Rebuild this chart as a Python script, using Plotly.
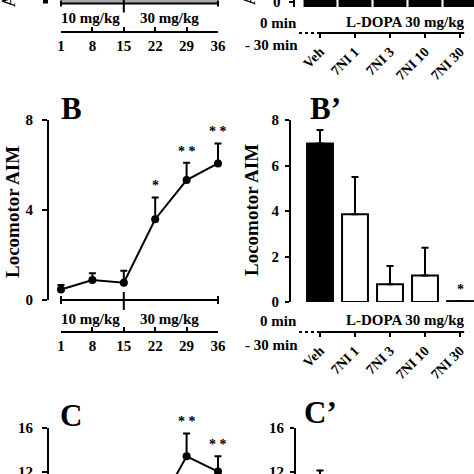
import plotly.graph_objects as go

W = H = 474
def fx(p): return p / W
def fy(p): return 1 - p / H

# ---------------- data ----------------
days = [1, 8, 15, 22, 29, 36]
dose_bounds = [1, 15, 36]
dose_labels = ["10 mg/kg", "30 mg/kg"]

b_mean = [0.47, 0.89, 0.77, 3.59, 5.33, 6.07]
b_err = [0.20, 0.30, 0.53, 0.97, 0.77, 0.89]
b_sig = ["", "", "", "*", "* *", "* *"]

groups = ["Veh", "7NI 1", "7NI 3", "7NI 10", "7NI 30"]
bp_mean = [6.97, 3.86, 0.78, 1.17, 0.04]
bp_err = [0.59, 1.64, 0.80, 1.21, 0.0]
bp_sig = ["", "", "", "", "*"]

c_days = [22, 29, 36]
c_mean = [8.2, 13.4, 12.0]
c_err = [1.0, 2.1, 1.4]
c_sig = ["", "* *", "* *"]

cp_groups = ["Veh"]
cp_mean = [10.6]
cp_err = [1.5]

y_ticks_b = [0, 4, 8]
y_ticks_bp = [0, 2, 4, 6, 8]
y_ticks_c = [12, 16]

FONT = "Liberation Serif"
def f(size):
    return dict(family=FONT, size=size, color="black", weight="bold")

gx = list(range(len(groups)))
bar_colors = ["black" if g == "Veh" else "white" for g in groups]

fig = go.Figure()

def err(arr):
    return dict(type="data", array=arr, arrayminus=[0] * len(arr), symmetric=False,
                color="black", thickness=2, width=3.5)

# B line
fig.add_trace(go.Scatter(x=days, y=b_mean, xaxis="x7", yaxis="y", mode="lines+markers",
                         line=dict(color="black", width=2), marker=dict(color="black", size=8),
                         error_y=err(b_err), cliponaxis=False, showlegend=False, hoverinfo="skip"))
# B' bars
fig.add_trace(go.Bar(x=gx, y=bp_mean, xaxis="x2", yaxis="y2", width=0.74,
                     marker=dict(color=bar_colors, line=dict(color="black", width=2)),
                     error_y=err(bp_err), showlegend=False, hoverinfo="skip"))
# C line
fig.add_trace(go.Scatter(x=c_days, y=c_mean, xaxis="x7", yaxis="y3", mode="lines+markers",
                         line=dict(color="black", width=2), marker=dict(color="black", size=8),
                         error_y=err(c_err), cliponaxis=False, showlegend=False, hoverinfo="skip"))
# C' bar
fig.add_trace(go.Bar(x=[groups.index(g) for g in cp_groups], y=cp_mean, xaxis="x2", yaxis="y4", width=0.74,
                     marker=dict(color="black", line=dict(color="black", width=2)),
                     error_y=err(cp_err), showlegend=False, hoverinfo="skip"))
# dummy traces to create tick-only axes
for xa in ["x", "x5", "x6"]:
    fig.add_trace(go.Scatter(x=[], y=[], xaxis=xa, yaxis="y", showlegend=False, hoverinfo="skip"))

s = 157 / 35  # px per day
TICK = 15
common = dict(showgrid=False, zeroline=False, linecolor="black", linewidth=2, automargin=False,
              tickcolor="black", tickwidth=2, tickfont=f(TICK), ticklabeloverflow="allow")

def time_axis(pos):
    return dict(common, domain=[fx(61), fx(218)], range=[1, 36], anchor="free", position=fy(pos),
                tickvals=days, ticks="inside", ticklen=4, showline=True)

def group_axis(pos):
    return dict(common, domain=[fx(290), 1], range=[(290 - 320) / 35, (474 - 320) / 35],
                anchor="free", position=fy(pos), tickvals=gx, ticktext=groups, tickangle=-45,
                ticks="outside", ticklen=4, showline=False, tickfont=f(14))

def yax(dom, rng, pos, vals, tl, stand):
    return dict(common, domain=dom, range=rng, anchor="free", position=fx(pos), tickvals=vals,
                ticks="outside", ticklen=tl, showline=True, ticklabelstandoff=stand)

shapes = []
def line(x0, y0, x1, y1, xref="paper", w=2, dash=None):
    shapes.append(dict(type="line", xref=xref, yref="paper", x0=x0, x1=x1, y0=fy(y0), y1=fy(y1),
                       line=dict(color="black", width=w, dash=dash)))

# dose bars (A top, B bottom)
shapes.append(dict(type="rect", xref="x7", yref="paper", x0=dose_bounds[0], x1=dose_bounds[-1],
                   y0=fy(3.5), y1=1.01, fillcolor="#a9a9a9", line=dict(width=0), layer="below"))
for yb, end_l, mid_l, mid_top in [(3.5, 3, 9, -1), (300, 4, 10, 292)]:
    line(dose_bounds[0], yb, dose_bounds[-1], yb, "x7")
    for d in (dose_bounds[0], dose_bounds[-1]):
        line(d, yb - end_l, d, yb + end_l, "x7")
    line(dose_bounds[1], mid_top, dose_bounds[1], yb + mid_l, "x7")

# L-DOPA timeline lines (A', B')
for yl in [33, 332]:
    line((299 - 320) / 35, yl, 0, yl, "x2", w=2, dash="dot")
    line(0, yl, 4.12, yl, "x2")

# A' partial bars
for i in gx:
    shapes.append(dict(type="rect", xref="x2", yref="paper", x0=i - 0.47, x1=i + 0.47,
                       y0=fy(7), y1=1.01, fillcolor="black", line=dict(width=0)))
# partial axis bits at top
shapes.append(dict(type="rect", xref="paper", yref="paper", x0=fx(43), x1=fx(48), y0=fy(3.5), y1=1.01,
                   fillcolor="black", line=dict(width=0)))
line(fx(289), 2, fx(294), 2)
line(fx(294), -1, fx(294), 7)

ann = []
def txt(t, x, y, size, xanchor="center", angle=0, xref="paper", yref="paper", yanchor="middle", yshift=0):
    ann.append(dict(text=t, x=x, y=y, xref=xref, yref=yref, showarrow=False, font=f(size),
                    xanchor=xanchor, yanchor=yanchor, textangle=angle, yshift=yshift))

txt("Locomotor AIM", fx(12), fy(212), 19, angle=-90)
txt("Locomotor AIM", fx(252), fy(210), 19, angle=-90)
txt("B", fx(59), fy(109), 31, xanchor="left")
txt("B’", fx(308), fy(109), 31, xanchor="left")
txt("C", fx(58), fy(415), 31, xanchor="left")
txt("C’", fx(302), fy(412), 31, xanchor="left")
for yb in [18, 319]:
    txt(dose_labels[0], fx(90), fy(yb), 15)
    txt(dose_labels[1], fx(169), fy(yb), 15)
for y0, y1 in [(23, 45), (321, 345)]:
    txt("0 min", fx(299), fy(y0), 15, xanchor="right")
    txt("- 30 min", fx(300), fy(y1), 15, xanchor="right")
    txt("L-DOPA 30 mg/kg", fx(405), fy(y0 - 1), 15)
txt("A", fx(9), fy(1), 18, angle=-90)
txt("A", fx(249), fy(-1), 18, angle=-90)
txt("0", fx(277), fy(2.5), 15)

for xs, ms, es, sg, xr, yr in [(days, b_mean, b_err, b_sig, "x7", "y"),
                               (gx, bp_mean, bp_err, bp_sig, "x2", "y2"),
                               (c_days, c_mean, c_err, c_sig, "x7", "y3")]:
    for xv, mv, ev, sv in zip(xs, ms, es, sg):
        if sv:
            txt(sv, xv, mv + ev, 14, xref=xr, yref=yr, yanchor="bottom", yshift=2)

# C panels: 16 at y=428 px, 12 just above the bottom edge (partly cut)
cr = 16 - (474 - 428) / 10.9
fig.update_layout(
    width=W, height=H, margin=dict(l=0, r=0, t=0, b=0, autoexpand=False),
    paper_bgcolor="white", plot_bgcolor="rgba(0,0,0,0)", font=f(14), showlegend=False,
    xaxis=time_axis(332),
    xaxis5=time_axis(32),
    xaxis2=group_axis(332),
    xaxis6=group_axis(33),
    xaxis7=dict(domain=[fx(40), fx(248)], range=[1 - 21 / s, 36 + 30 / s], visible=False,
                anchor="free", position=0, automargin=False),
    yaxis=yax([fy(300), fy(120)], [0, 8], 48, y_ticks_b, 5, 6),
    yaxis2=yax([fy(302), fy(120)], [0, 8], 290, y_ticks_bp, 4, 3),
    yaxis3=yax([0, fy(428)], [cr, 16], 48, y_ticks_c, 5, 6),
    yaxis4=yax([0, fy(428)], [cr, 16], 295, y_ticks_c, 4, 3),
    shapes=shapes, annotations=ann,
)
fig.write_html("out.html", config={"displayModeBar": False},
               post_script="document.documentElement.style.margin='0';document.body.style.margin='0';"
                           "document.documentElement.style.overflow='hidden';document.body.style.overflow='hidden';")
